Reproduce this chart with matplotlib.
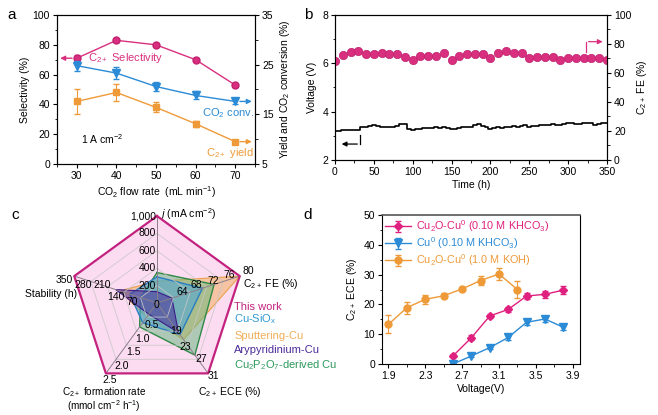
import numpy as np
import matplotlib
matplotlib.use("Agg")
import matplotlib.pyplot as plt
from matplotlib.ticker import MultipleLocator

plt.rcParams['font.family'] = ['Liberation Sans', 'DejaVu Sans']
plt.rcParams['font.size'] = 7.5
plt.rcParams['mathtext.default'] = 'regular'

# ---------------- data ----------------
# panel a
flow = [30, 40, 50, 60, 70]
selectivity = [71, 83, 80, 70, 53]
selectivity_err = [2.0, 1.0, 1.0, 1.0, 1.0]
co2_conv = [24.8, 23.3, 20.6, 18.8, 17.6]
co2_conv_err = [1.0, 1.2, 0.9, 0.8, 0.6]
c2_yield = [17.6, 19.4, 16.4, 13.1, 9.5]
c2_yield_err = [2.5, 1.8, 1.0, 0.6, 0.4]

# panel b
fe_time = [0, 10, 20, 30, 40, 50, 60, 70, 80, 90, 100, 110, 120, 130, 140, 150, 160, 170,
           180, 190, 200, 210, 220, 230, 240, 250, 260, 270, 280, 290, 300, 310, 320, 330, 340, 350]
fe_values = [68.5, 72.4, 74.3, 75.2, 73.1, 73.1, 74.0, 73.1, 73.1, 70.8, 69.0, 72.0, 72.0, 72.0,
             74.0, 69.0, 72.0, 73.1, 73.1, 73.1, 70.0, 74.0, 75.2, 74.0, 74.0, 70.0, 71.0, 71.0,
             71.0, 69.0, 70.0, 70.0, 70.0, 70.0, 70.0, 69.0]
v_time = list(range(0, 355, 5))
v_values = [3.22, 3.22, 3.24, 3.24, 3.25, 3.25, 3.26, 3.36, 3.38, 3.42, 3.44, 3.42, 3.38, 3.36,
            3.38, 3.36, 3.40, 3.47, 3.50, 3.28, 3.26, 3.30, 3.30, 3.32, 3.34, 3.33, 3.35, 3.34,
            3.36, 3.33, 3.28, 3.30, 3.34, 3.35, 3.36, 3.38, 3.44, 3.50, 3.40, 3.36, 3.28, 3.32,
            3.35, 3.34, 3.36, 3.38, 3.40, 3.38, 3.42, 3.44, 3.36, 3.40, 3.42, 3.44, 3.45, 3.46,
            3.48, 3.46, 3.46, 3.50, 3.53, 3.52, 3.48, 3.50, 3.52, 3.53, 3.52, 3.44, 3.48, 3.52, 3.54]

# panel c (radar)
radar_axes = ['j', 'FE', 'ECE', 'rate', 'stability']
radar_min = [0, 60, 11, 0, 0]
radar_max = [1000, 80, 31, 2.5, 350]
radar_names = ['This work', 'Cu-SiO$_x$', 'Sputtering-Cu', 'Arypyridinium-Cu',
               'Cu$_2$P$_2$O$_7$-derived Cu']
this_work = [1000, 80, 31, 2.5, 350]
cu_siox = [300, 71, 20, 0.7, 115]
sputtering_cu = [250, 80, 21.4, 0.5, 158]
arypyridinium_cu = [130, 63.6, 19.4, 0.4, 175]
cu2p2o7_cu = [350, 73.8, 25.8, 0.85, 70]
tick_j = ['0', '200', '400', '600', '800', '1,000']
tick_fe = ['64', '68', '72', '76', '80']
tick_ece = ['19', '23', '27', '31']
tick_rate = ['0.5', '1.0', '1.5', '2.0', '2.5']
tick_stab = ['70', '140', '210', '280', '350']

# panel d
v_khco3 = [2.6, 2.8, 3.0, 3.2, 3.4, 3.6, 3.8]
ece_cu2o_khco3 = [2.7, 8.8, 16.1, 18.3, 22.8, 23.4, 24.8]
ece_cu2o_khco3_err = [0.5, 0.8, 0.8, 0.8, 1.0, 1.2, 1.3]
ece_cu_khco3 = [0.0, 2.7, 5.5, 8.9, 14.0, 15.1, 12.3]
ece_cu_khco3_err = [0.3, 0.5, 0.6, 0.7, 1.0, 1.0, 0.8]
v_koh = [1.9, 2.1, 2.3, 2.5, 2.7, 2.9, 3.1, 3.3]
ece_cu2o_koh = [13.3, 18.9, 21.7, 22.9, 25.2, 28.0, 30.2, 25.0]
ece_cu2o_koh_err = [3.0, 2.0, 1.5, 0.8, 0.8, 1.5, 2.0, 3.0]

PINK = '#d8307f'
BLUE = '#2b8bd6'
ORANGE = '#ee9a38'

W, H = 658, 415
fig = plt.figure(figsize=(6.58, 4.15), dpi=100)


def ax_px(l, t, r, b):
    return fig.add_axes([l / W, 1 - b / H, (r - l) / W, (b - t) / H])


def style(ax):
    ax.tick_params(direction='out', length=3, width=0.8, labelsize=7.5, pad=2)
    ax.tick_params(which='minor', direction='out', length=1.8, width=0.6)
    for s in ax.spines.values():
        s.set_linewidth(0.8)


# ---------------- panel a ----------------
axa = ax_px(57, 15, 255, 164)
axa2 = axa.twinx()
axa.errorbar(flow, selectivity, yerr=selectivity_err, color=PINK, marker='o', ms=5,
             mec='#c22070', mfc=PINK, lw=1, capsize=2, elinewidth=0.8, zorder=5)
axa2.errorbar(flow, co2_conv, yerr=co2_conv_err, color=BLUE, marker='v', ms=6,
              lw=1, capsize=2, elinewidth=0.8, zorder=5)
axa2.errorbar(flow, c2_yield, yerr=c2_yield_err, color=ORANGE, marker='s', ms=5,
              lw=1, capsize=2, elinewidth=0.8, zorder=5)
axa.set_xlim(25, 75)
axa.set_ylim(0, 100)
axa2.set_ylim(5, 35)
axa.xaxis.set_major_locator(MultipleLocator(10))
axa.xaxis.set_minor_locator(MultipleLocator(5))
axa.yaxis.set_major_locator(MultipleLocator(20))
axa.yaxis.set_minor_locator(MultipleLocator(10))
axa2.set_yticks([5, 15, 25, 35])
axa2.set_yticks([10, 20, 30], minor=True)
style(axa); style(axa2)
axa.set_xlabel('CO$_2$ flow rate  (mL min$^{-1}$)', labelpad=2)
axa.set_ylabel('Selectivity (%)', labelpad=2)
axa2.set_ylabel('Yield and CO$_2$ conversion (%)', labelpad=3)
axa.annotate('', xy=(25.1, selectivity[0]), xytext=(29.5, selectivity[0]),
             arrowprops=dict(arrowstyle='-|>', color=PINK, lw=1, mutation_scale=7))
axa2.annotate('', xy=(74.9, co2_conv[-1]), xytext=(70.5, co2_conv[-1]),
              arrowprops=dict(arrowstyle='-|>', color=BLUE, lw=1, mutation_scale=7))
axa2.annotate('', xy=(74.9, c2_yield[-1]), xytext=(70.5, c2_yield[-1]),
              arrowprops=dict(arrowstyle='-|>', color=ORANGE, lw=1, mutation_scale=7))
axa.text(32.8, 71, 'C$_{2+}$ Selectivity', color=PINK, fontsize=8, va='center')
axa.text(61.5, 34, 'CO$_2$ conv.', color=BLUE, fontsize=8, va='center')
axa.text(62.5, 7.5, 'C$_{2+}$ yield', color=ORANGE, fontsize=8, va='center')
axa.text(31.0, 17, '1 A cm$^{-2}$', color='black', fontsize=7.5, va='center')

# ---------------- panel b ----------------
axb = ax_px(335, 15, 607, 160)
axb2 = axb.twinx()
axb.plot(v_time, v_values, color='black', lw=1.2, drawstyle='steps-mid')
axb2.plot(fe_time, fe_values, ls='none', marker='o', ms=6, mfc=PINK, mec='#c22070',
          mew=0.5)
axb.set_xlim(0, 350)
axb.set_ylim(2, 8)
axb2.set_ylim(0, 100)
axb.xaxis.set_major_locator(MultipleLocator(50))
axb.xaxis.set_minor_locator(MultipleLocator(25))
axb.yaxis.set_major_locator(MultipleLocator(2))
axb.yaxis.set_minor_locator(MultipleLocator(1))
axb2.yaxis.set_major_locator(MultipleLocator(20))
axb2.yaxis.set_minor_locator(MultipleLocator(10))
style(axb); style(axb2)
axb.set_xlabel('Time (h)', labelpad=2)
axb.set_ylabel('Voltage (V)', labelpad=4)
axb2.set_ylabel('C$_{2+}$ FE (%)', labelpad=3)
axb.plot([32, 32], [3.03, 2.66], color='black', lw=0.9)
axb.annotate('', xy=(5, 2.66), xytext=(32.3, 2.66),
             arrowprops=dict(arrowstyle='-|>', color='black', lw=0.9, mutation_scale=7))
axb2.plot([323, 323], [74.7, 81.6], color=PINK, lw=0.9)
axb2.annotate('', xy=(348, 81.6), xytext=(322.7, 81.6),
              arrowprops=dict(arrowstyle='-|>', color=PINK, lw=0.9, mutation_scale=7))

# ---------------- panel c (radar) ----------------
axc = fig.add_axes([0, 0, 329 / W, 215 / H])
axc.set_xlim(0, 329)
axc.set_ylim(415, 200)
axc.axis('off')
cx, cy, R = 157.0, 303.0, 87.0
angles = np.deg2rad([90, 18, -54, -126, 162])


def to_xy(vals):
    fr = [(v - lo) / (hi - lo) for v, lo, hi in zip(vals, radar_min, radar_max)]
    xs = [cx + R * f * np.cos(a) for f, a in zip(fr, angles)]
    ys = [cy - R * f * np.sin(a) for f, a in zip(fr, angles)]
    return xs + xs[:1], ys + ys[:1]


series = [
    (this_work, '#fcd6ef', '#c3237f', 0.85, 1.6),
    (sputtering_cu, '#f2b46e', '#e9a24e', 0.6, 0.8),
    (cu2p2o7_cu, '#5fb87a', '#2f8a47', 0.5, 1.0),
    (cu_siox, '#4aa6dd', '#2a7fc0', 0.55, 1.0),
    (arypyridinium_cu, '#4a2a9a', '#3b1e8a', 0.55, 0.8),
]
for i, (vals, fc, ec, al, lw) in enumerate(series):
    xs, ys = to_xy(vals)
    axc.fill(xs, ys, color=fc, alpha=al, lw=0, zorder=1 + i)
    axc.plot(xs, ys, color=ec, lw=lw, zorder=1 + i if i else 8)

# grid rings and spokes
for k in range(1, 5):
    f = k / 5
    xs = [cx + R * f * np.cos(a) for a in angles] + [cx + R * f * np.cos(angles[0])]
    ys = [cy - R * f * np.sin(a) for a in angles] + [cy - R * f * np.sin(angles[0])]
    axc.plot(xs, ys, color='#c8c8c8', lw=0.6, zorder=6, alpha=0.9)
for a in angles:
    axc.plot([cx, cx + R * np.cos(a)], [cy, cy - R * np.sin(a)], color='#8a7f8a', lw=0.7, zorder=7)

tfs = 7.5
# j labels
for k, lab in enumerate(tick_j):
    axc.text(cx - 1 if k else cx, cy - R * k / 5 + (0 if k else 2), lab, ha='right' if k else 'center',
             va='center', fontsize=tfs, zorder=9)
axc.text(cx + 3, 214, '$\\it{j}$ (mA cm$^{-2}$)', fontsize=tfs, va='center', ha='left')
# FE labels
fe_pos = [(182, 292), (196, 285), (213, 281), (229, 275), (248, 271)]
for (x, y), lab in zip(fe_pos, tick_fe):
    axc.text(x, y, lab, fontsize=tfs, ha='center', va='center', zorder=9)
axc.text(243, 284, 'C$_{2+}$ FE (%)', fontsize=tfs, ha='left', va='center')
# ECE labels
ece_pos = [(176, 331), (185, 347), (201, 359), (213, 376)]
for (x, y), lab in zip(ece_pos, tick_ece):
    axc.text(x, y, lab, fontsize=tfs, ha='center', va='center', zorder=9)
axc.text(230, 392, 'C$_{2+}$ ECE (%)', fontsize=tfs, ha='center', va='center')
# rate labels
rate_pos = [(152, 325), (142, 339), (133, 352), (122, 366), (110, 380)]
for (x, y), lab in zip(rate_pos, tick_rate):
    axc.text(x, y, lab, fontsize=tfs, ha='center', va='center', zorder=9)
axc.text(104, 392.5, 'C$_{2+}$ formation rate', fontsize=7.2, ha='center', va='center')
axc.text(104, 406, '(mmol cm$^{-2}$ h$^{-1}$)', fontsize=7.2, ha='center', va='center')
# stability labels
stab_pos = [(132, 302), (116, 297), (102, 285), (83, 285), (64, 280)]
for (x, y), lab in zip(stab_pos, tick_stab):
    axc.text(x, y, lab, fontsize=tfs, ha='center', va='center', zorder=9)
axc.text(51, 294, 'Stability (h)', fontsize=tfs, ha='center', va='center')
# legend
leg_y = [307, 319, 336, 350, 365]
leg_colors = ['#c3237f', '#2f98d3', '#f0ae58', '#4b2a9a', '#2e9a5c']
for y, name, col in zip(leg_y, radar_names, leg_colors):
    axc.text(234, y, name, fontsize=8, color=col, ha='left', va='center')

# ---------------- panel d ----------------
axd = ax_px(382, 215, 580, 364)
axd.errorbar(v_khco3, ece_cu2o_khco3, yerr=ece_cu2o_khco3_err, color='#e0207f', marker='D',
             ms=4.5, lw=1, capsize=2, elinewidth=0.8, label='Cu$_2$O-Cu$^0$ (0.10 M KHCO$_3$)')
axd.errorbar(v_khco3, ece_cu_khco3, yerr=ece_cu_khco3_err, color=BLUE, marker='v',
             ms=5.5, lw=1, capsize=2, elinewidth=0.8, label='Cu$^0$ (0.10 M KHCO$_3$)')
axd.errorbar(v_koh, ece_cu2o_koh, yerr=ece_cu2o_koh_err, color=ORANGE, marker='o',
             ms=5, lw=1, capsize=2, elinewidth=0.8, label='Cu$_2$O-Cu$^0$ (1.0 M KOH)')
axd.set_xlim(1.83, 3.98)
axd.set_ylim(0, 50)
axd.set_xticks([1.9, 2.3, 2.7, 3.1, 3.5, 3.9])
axd.set_xticks([2.1, 2.5, 2.9, 3.3, 3.7], minor=True)
axd.yaxis.set_major_locator(MultipleLocator(10))
axd.yaxis.set_minor_locator(MultipleLocator(5))
style(axd)
axd.spines['top'].set_color('#555555')
axd.spines['top'].set_linewidth(1.2)
axd.set_xlabel('Voltage(V)', labelpad=2)
axd.set_ylabel('C$_{2+}$ ECE (%)', labelpad=3)
leg = axd.legend(loc='upper left', frameon=False, fontsize=7.8, handlelength=2.4,
                 borderaxespad=0.1, borderpad=0.2, labelspacing=0.12, handletextpad=0.4)
for txt, col in zip(leg.get_texts(), ['#e0207f', BLUE, ORANGE]):
    txt.set_color(col)

# panel letters
fig.text(12 / W, 1 - 15 / H, 'a', fontsize=11, ha='center', va='center')
fig.text(308 / W, 1 - 15 / H, 'b', fontsize=11, ha='center', va='center')
fig.text(15 / W, 1 - 215 / H, 'c', fontsize=11, ha='center', va='center')
fig.text(308 / W, 1 - 215 / H, 'd', fontsize=11, ha='center', va='center')

fig.savefig('out.png', dpi=100)
